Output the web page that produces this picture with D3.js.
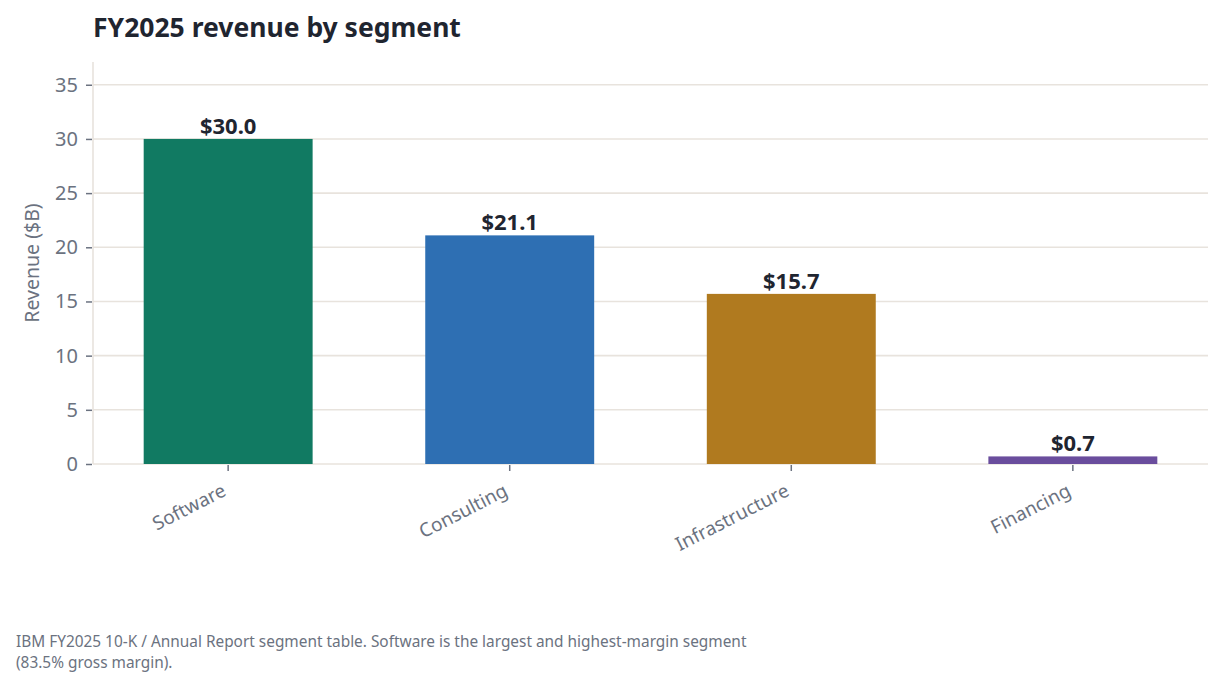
<!DOCTYPE html>
<html>
<head>
<meta charset="utf-8">
<script src="https://cdn.jsdelivr.net/npm/d3@7"></script>
<style>
  body { margin: 0; background: #fff; }
  svg { display: block; font-family: "Noto Sans", "Open Sans", sans-serif; }
</style>
</head>
<body>
<svg id="chart" width="1222" height="689"></svg>
<script>
// data
const segments = ['Software', 'Consulting', 'Infrastructure', 'Financing']
const revenue = [30.0, 21.1, 15.7, 0.7]
const colors = ['#117a62', '#2e6fb3', '#b07a1f', '#6a4d9d']
const yTicks = [0, 5, 10, 15, 20, 25, 30, 35]

const svg = d3.select('#chart')
const plotLeft = 93
const plotRight = 1208
const plotTop = 62
const plotBottom = 464

const x = d3.scaleBand()
  .domain(segments)
  .range([plotLeft, plotRight])
  .paddingInner(0.4)
  .paddingOuter(0.18)

const y = d3.scaleLinear()
  .domain([0, 37.1])
  .range([plotBottom, plotTop])

const grid = '#e8e3dd'
const tickGray = '#6b7280'

// title
svg.append('text')
  .attr('x', plotLeft)
  .attr('y', 37)
  .attr('font-size', 26.5)
  .attr('font-weight', 700)
  .attr('fill', '#1f2530')
  .text('FY2025 revenue by segment')

// gridlines
svg.append('g')
  .selectAll('line')
  .data(yTicks)
  .join('line')
  .attr('x1', plotLeft)
  .attr('x2', plotRight)
  .attr('y1', d => y(d))
  .attr('y2', d => y(d))
  .attr('stroke', grid)
  .attr('stroke-width', 1.6)

// left spine
svg.append('line')
  .attr('x1', plotLeft).attr('x2', plotLeft)
  .attr('y1', plotTop).attr('y2', plotBottom)
  .attr('stroke', grid)
  .attr('stroke-width', 1.6)

// y axis
const yAxis = svg.append('g')
  .attr('transform', `translate(${plotLeft - 1},0)`)
  .call(d3.axisLeft(y).tickValues(yTicks).tickSize(6).tickPadding(8))
yAxis.select('.domain').remove()
yAxis.selectAll('.tick line').attr('stroke', tickGray).attr('stroke-width', 1.5)
yAxis.selectAll('.tick text')
  .attr('font-size', 20)
  .attr('font-family', '"Noto Sans", sans-serif')
  .attr('fill', tickGray)

// y axis label
svg.append('text')
  .attr('transform', `translate(39,${(plotTop + plotBottom) / 2}) rotate(-90)`)
  .attr('text-anchor', 'middle')
  .attr('font-size', 19.5)
  .attr('fill', tickGray)
  .text('Revenue ($B)')

// bars
svg.append('g')
  .selectAll('rect')
  .data(segments)
  .join('rect')
  .attr('x', d => x(d))
  .attr('width', x.bandwidth())
  .attr('y', (d, i) => y(revenue[i]))
  .attr('height', (d, i) => plotBottom - y(revenue[i]))
  .attr('fill', (d, i) => colors[i])

// value labels
svg.append('g')
  .selectAll('text')
  .data(segments)
  .join('text')
  .attr('x', d => x(d) + x.bandwidth() / 2)
  .attr('y', (d, i) => y(revenue[i]) - 5)
  .attr('text-anchor', 'middle')
  .attr('font-size', 22)
  .attr('font-weight', 700)
  .attr('fill', '#1f2530')
  .text((d, i) => '$' + revenue[i].toFixed(1))

// x axis
const xAxis = svg.append('g')
  .attr('transform', `translate(0,${plotBottom + 1})`)
  .call(d3.axisBottom(x).tickSize(6).tickPadding(6))
xAxis.select('.domain').remove()
xAxis.selectAll('.tick line').attr('stroke', tickGray).attr('stroke-width', 1.5)
xAxis.selectAll('.tick text')
  .attr('font-size', 19)
  .attr('font-family', '"Noto Sans", sans-serif')
  .attr('fill', tickGray)
  .attr('text-anchor', 'end')
  .attr('dy', '0.9em')
  .attr('transform', 'translate(-14,4) rotate(-27)')

// caption
const caption = svg.append('text')
  .attr('font-size', 15.4)
  .attr('fill', tickGray)
caption.append('tspan')
  .attr('x', 16).attr('y', 647)
  .text('IBM FY2025 10-K / Annual Report segment table. Software is the largest and highest-margin segment')
caption.append('tspan')
  .attr('x', 16).attr('y', 668)
  .text('(83.5% gross margin).')
</script>
</body>
</html>
